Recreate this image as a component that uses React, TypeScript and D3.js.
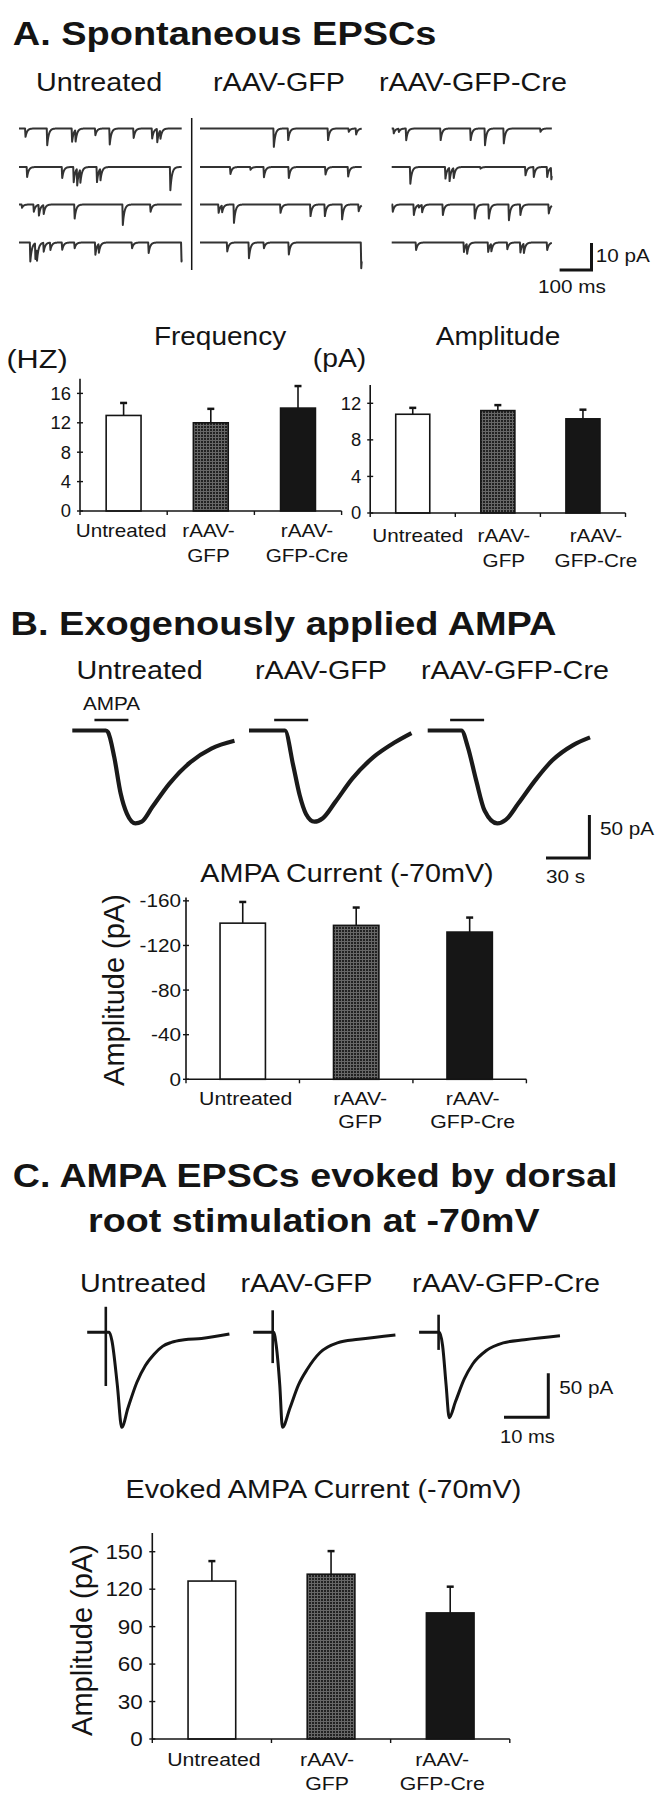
import React from 'react';
import * as d3 from 'd3';

const FONT = "'Liberation Sans', Arial, Helvetica, sans-serif";
const INK = '#141414';

// ---------- categories ----------
const groups = ['Untreated', 'rAAV-GFP', 'rAAV-GFP-Cre'];
const groupAxisLines = [['Untreated'], ['rAAV-', 'GFP'], ['rAAV-', 'GFP-Cre']];

// ---------- A: spontaneous EPSC sweeps, events as [time ms, amplitude pA] ----------
const sweepsUntreated: [number, number][][] = [
  [[19, 3.1], [87, 6.2], [165, 4.9], [176, 4.3], [238, 2.5], [283, 5.9], [358, 3.5], [416, 3.7], [432, 4.9], [442, 3.1]],
  [[24, 3.7], [134, 4.1], [170, 5.6], [181, 6.2], [191, 4.9], [243, 5.6], [254, 4.3], [473, 8.6]],
  [[8, 1.2], [45, 2.7], [61, 4.0], [76, 3.3], [173, 5.2], [324, 7.6], [411, 2.7]],
  [[34, 7.0], [50, 5.8], [55, 4.5], [76, 3.3], [97, 2.7], [134, 2.7], [173, 2.1], [238, 4.5], [249, 3.3], [353, 2.1], [405, 3.9], [508, 7.0]],
];
const sweepsGFP: [number, number][][] = [
  [[230, 6.8], [275, 4.3], [400, 4.3], [465, 1.2], [488, 2.2]],
  [[94, 2.6], [157, 1.0], [199, 3.8], [277, 4.1], [392, 2.8], [463, 3.5]],
  [[57, 3.1], [68, 2.5], [105, 6.8], [251, 3.1], [345, 4.3], [390, 4.3], [444, 5.5], [496, 2.5]],
  [[84, 3.3], [152, 5.8], [199, 2.1], [277, 4.4], [504, 9.5]],
];
const sweepsCre: [number, number][][] = [
  [[5, 1.8], [21, 1.2], [44, 4.3], [152, 4.3], [246, 4.3], [291, 6.2], [350, 5.5], [465, 1.2]],
  [[57, 6.2], [167, 4.3], [180, 4.9], [193, 3.7], [277, 0.6], [418, 3.1], [444, 3.7], [486, 3.7], [499, 4.3]],
  [[2, 2.7], [68, 3.9], [84, 1.0], [94, 2.7], [159, 3.9], [259, 5.2], [303, 5.2], [366, 5.8], [402, 3.9], [491, 3.3]],
  [[75, 2.8], [225, 3.5], [235, 3.7], [301, 3.5], [311, 2.8], [361, 2.5], [402, 3.7], [413, 3.5], [486, 2.8]],
];
const sweepDurationsMs = [510, 507, 502];

// ---------- A: bar data ----------
const freqMeanHz = [13.0, 12.0, 14.0];
const freqSemHz = [1.7, 1.9, 3.0];
const freqTicks = [0, 4, 8, 12, 16];
const ampMeanPa = [10.8, 11.2, 10.3];
const ampSemPa = [0.7, 0.6, 1.0];
const ampTicks = [0, 4, 8, 12];

// ---------- B: AMPA-evoked whole-cell currents [time s, current pA] ----------
const ampaTraceUntreated: [number, number][] = [[0, 0], [23.2, 0], [24.7, -2], [29.0, -31], [33.4, -73], [37.8, -97], [43.6, -108], [48.0, -106], [55.3, -89], [67.0, -62], [81.5, -37], [96.1, -21], [112.1, -12]];
const ampaTraceGFP: [number, number][] = [[0, 0], [24.8, 0], [30.6, -41], [35.0, -75], [39.4, -97], [45.2, -106], [51.0, -102], [59.7, -83], [71.4, -56], [86.0, -31], [100.6, -14], [112.3, -3]];
const ampaTraceCre: [number, number][] = [[0, 0], [23.3, 0], [27.7, -19], [33.5, -58], [39.3, -93], [48.1, -108], [53.9, -104], [62.6, -85], [74.3, -58], [86.0, -35], [100.5, -17], [112.2, -8]];
const ampaApplicationS: [number, number][] = [[15.3, 38.8], [17.4, 40.9], [15.5, 39.0]];
const ampaMeanPa = [-140, -138, -132];
const ampaSemPa = [-19, -16, -13];
const ampaTicks = [0, -40, -80, -120, -160];

// ---------- C: evoked EPSCs [time ms, current pA] ----------
const evokedTraceUntreated: [number, number][] = [[0, 0], [5.0, 0], [5.6, -10], [6.8, -60], [7.8, -108], [9.2, -86], [11.2, -57], [13.1, -38], [15.1, -25], [17.0, -16], [19.0, -11.5], [21.9, -8.5], [25.8, -7], [32.1, -2]];
const evokedTraceGFP: [number, number][] = [[0, 0], [4.6, 0], [5.2, -15], [6.0, -60], [6.6, -108], [8.3, -86], [10.2, -60], [12.2, -42], [15.1, -23], [19.0, -12], [23.8, -8], [32.1, -3]];
const evokedTraceCre: [number, number][] = [[0, 0], [4.6, 0], [5.3, -15], [6.1, -60], [6.8, -97], [8.2, -79], [10.2, -53], [12.1, -36], [15.1, -21], [19.0, -12], [23.8, -8.5], [31.8, -4]];
const stimArtifacts = [{ t: 4.2, up: 29, down: -61 }, { t: 4.4, up: 25, down: -35 }, { t: 4.4, up: 20, down: -20 }];
const evokedMeanPa = [126.5, 132, 101];
const evokedSemPa = [16, 18.5, 21];
const evokedTicks = [0, 30, 60, 90, 120, 150];

// ---------- helpers ----------
type TProps = { x: number; y: number; size: number; sx?: number; anchor?: string; bold?: boolean; children: React.ReactNode };
function T({ x, y, size, sx = 1.15, anchor = 'start', bold = false, children }: TProps) {
  return (
    <text transform={`translate(${x},${y}) scale(${sx},1)`} textAnchor={anchor} fontSize={size}
      fontWeight={bold ? 'bold' : 'normal'} fontFamily={FONT} fill={INK}>{children}</text>
  );
}

const fills = ['#ffffff', 'url(#stipple)', '#161616'];

type BarCfg = {
  x0: number; x1: number; yZero: number; yTop: number; max: number;
  means: number[]; sems: number[]; ticks: number[];
  tickSize: number; tickSx: number; tickRight: number;
  labelY1: number; labelY2: number; labelSize: number; labelShift: number[];
};

function BarChart({ c }: { c: BarCfg }) {
  const x = d3.scaleBand().domain(groups).range([c.x0, c.x1]).paddingInner(0.6).paddingOuter(0.3);
  const y = d3.scaleLinear().domain([0, c.max]).range([c.yZero, c.yTop]);
  const step = x.step();
  const bw = x.bandwidth();
  return (
    <g>
      {groups.map((g, i) => {
        const xb = x(g) as number;
        const y0 = y(0), ym = y(c.means[i]), ye = y(c.means[i] + c.sems[i]);
        const cx = xb + bw / 2;
        return (
          <g key={g}>
            <line x1={cx} x2={cx} y1={ym} y2={ye} stroke={INK} strokeWidth={1.6} />
            <line x1={cx - 3.5} x2={cx + 3.5} y1={ye} y2={ye} stroke={INK} strokeWidth={2.5} />
            <rect x={xb} y={Math.min(y0, ym)} width={bw} height={Math.abs(ym - y0)} fill={fills[i]} stroke={INK} strokeWidth={1.6} />
          </g>
        );
      })}
      <line x1={c.x0} x2={c.x0} y1={c.yZero} y2={c.yTop} stroke={INK} strokeWidth={1.6} />
      <line x1={c.x0} x2={c.x1} y1={c.yZero} y2={c.yZero} stroke={INK} strokeWidth={1.6} />
      {c.ticks.map((t) => (
        <g key={t}>
          <line x1={c.x0 - 3} x2={c.x0 + 3} y1={y(t)} y2={y(t)} stroke={INK} strokeWidth={1.4} />
          <T x={c.x0 - c.tickRight} y={y(t) + c.tickSize * 0.36} size={c.tickSize} sx={c.tickSx} anchor="end">{String(t)}</T>
        </g>
      ))}
      {d3.range(groups.length + 1).map((i) => (
        <line key={i} x1={c.x0 + i * step} x2={c.x0 + i * step} y1={c.yZero} y2={c.yZero + 4} stroke={INK} strokeWidth={1.4} />
      ))}
      {groups.map((g, i) => {
        const cx = (x(g) as number) + bw / 2 + c.labelShift[i];
        return groupAxisLines[i].map((ln, k) => (
          <T key={g + k} x={cx} y={k === 0 ? c.labelY1 : c.labelY2} size={c.labelSize} anchor="middle">{ln}</T>
        ));
      })}
    </g>
  );
}

// spontaneous sweep scales
const A_MS_PX = d3.scaleLinear().domain([0, 100]).range([0, 31.9]);
const A_PA_PX = d3.scaleLinear().domain([0, 10]).range([0, 27]);

function sweepPath(events: [number, number][], duration: number, x0: number, yBase: number) {
  const pts: [number, number][] = d3.range(0, duration + 0.001, 0.5).map((t) => {
    let depth = 0;
    for (const [t0, a] of events) {
      const dt = t - t0;
      if (dt >= 0) depth += a * (dt < 1.5 ? dt / 1.5 : Math.exp(-(dt - 1.5) / 5));
    }
    return [x0 + A_MS_PX(t), yBase + A_PA_PX(depth)];
  });
  return d3.line()(pts) as string;
}

const B_S_PX = d3.scaleLinear().domain([0, 30]).range([0, 43.4]);
const B_PA_PX = d3.scaleLinear().domain([0, -50]).range([0, 43]);
const C_MS_PX = d3.scaleLinear().domain([0, 10]).range([0, 44.3]);
const C_PA_PX = d3.scaleLinear().domain([0, -50]).range([0, 44]);

export default function App() {
  const sweepSets = [sweepsUntreated, sweepsGFP, sweepsCre];
  const sweepX0 = [19, 200, 391.7];
  const rowY = [128.5, 167, 204.5, 242.5];

  const ampaTraces = [ampaTraceUntreated, ampaTraceGFP, ampaTraceCre];
  const ampaX0 = [72.3, 249, 427.7];
  const ampaY0 = 730.5;
  const ampaLine = (pts: [number, number][], x0: number) =>
    d3.line<[number, number]>().x((d) => x0 + B_S_PX(d[0])).y((d) => ampaY0 + B_PA_PX(d[1])).curve(d3.curveMonotoneX)(pts) as string;

  const evokedTraces = [evokedTraceUntreated, evokedTraceGFP, evokedTraceCre];
  const evX0 = [87.2, 253.2, 419.1];
  const evY0 = 1332.3;
  const evLine = (pts: [number, number][], x0: number) =>
    d3.line<[number, number]>().x((d) => x0 + C_MS_PX(d[0])).y((d) => evY0 + C_PA_PX(d[1])).curve(d3.curveMonotoneX)(pts) as string;

  const freqCfg: BarCfg = {
    x0: 80, x1: 341.6, yZero: 511, yTop: 378.7, max: 18, means: freqMeanHz, sems: freqSemHz, ticks: freqTicks,
    tickSize: 17.5, tickSx: 1.05, tickRight: 9, labelY1: 537, labelY2: 562, labelSize: 18, labelShift: [-2.5, -2.3, 9],
  };
  const ampCfg: BarCfg = {
    x0: 370.2, x1: 625.5, yZero: 513, yTop: 385, max: 14, means: ampMeanPa, sems: ampSemPa, ticks: ampTicks,
    tickSize: 17.5, tickSx: 1.05, tickRight: 9, labelY1: 542, labelY2: 567, labelSize: 18, labelShift: [5, 6, 13],
  };
  const ampaCfg: BarCfg = {
    x0: 186, x1: 526.4, yZero: 1079.3, yTop: 897.5, max: -163, means: ampaMeanPa, sems: ampaSemPa, ticks: ampaTicks,
    tickSize: 18, tickSx: 1.15, tickRight: 5, labelY1: 1105, labelY2: 1128, labelSize: 18.5, labelShift: [3, 4, 3],
  };
  const evokedCfg: BarCfg = {
    x0: 152.3, x1: 509.8, yZero: 1739, yTop: 1533, max: 165, means: evokedMeanPa, sems: evokedSemPa, ticks: evokedTicks,
    tickSize: 19.5, tickSx: 1.15, tickRight: 9.5, labelY1: 1766, labelY2: 1790, labelSize: 18.5, labelShift: [2, -4, -8],
  };

  return (
    <svg width={667} height={1800} viewBox="0 0 667 1800" style={{ position: 'absolute', left: 0, top: 0, background: '#fff' }}>
      <defs>
        <pattern id="stipple" width={3} height={3} patternUnits="userSpaceOnUse">
          <rect width={3} height={3} fill="#676767" />
          <rect width={2} height={2} fill="#222222" />
        </pattern>
      </defs>
      <rect width={667} height={1800} fill="#fff" />

      {/* ================= A ================= */}
      <T x={12.8} y={45} size={33} bold>A. Spontaneous EPSCs</T>
      <T x={36} y={91} size={25}>Untreated</T>
      <T x={213} y={91} size={25}>rAAV-GFP</T>
      <T x={379} y={91} size={25}>rAAV-GFP-Cre</T>

      {sweepSets.map((set, ci) =>
        set.map((ev, ri) => (
          <path key={`${ci}-${ri}`} d={sweepPath(ev, sweepDurationsMs[ci], sweepX0[ci], rowY[ri])}
            fill="none" stroke="#333333" strokeWidth={2} strokeLinejoin="round" />
        ))
      )}
      <line x1={191.7} x2={191.7} y1={118} y2={270} stroke={INK} strokeWidth={1.5} />

      {/* A scale bar */}
      <path d={`M${591.5 - A_MS_PX(100)},270 H591.5 V${270 - A_PA_PX(10)}`} fill="none" stroke={INK} strokeWidth={3} />
      <T x={595.7} y={262} size={18}>10 pA</T>
      <T x={538} y={293} size={18}>100 ms</T>

      <T x={220} y={345} size={25} sx={1.12} anchor="middle">Frequency</T>
      <T x={498} y={345} size={25} sx={1.12} anchor="middle">Amplitude</T>
      <T x={6.4} y={368} size={26} sx={1.18}>(HZ)</T>
      <T x={312.8} y={367} size={25} sx={1.13}>(pA)</T>
      <BarChart c={freqCfg} />
      <BarChart c={ampCfg} />

      {/* ================= B ================= */}
      <T x={10.6} y={635} size={33} bold>B. Exogenously applied AMPA</T>
      <T x={76.6} y={679} size={25}>Untreated</T>
      <T x={255} y={679} size={25}>rAAV-GFP</T>
      <T x={421} y={679} size={25}>rAAV-GFP-Cre</T>
      <T x={83} y={710} size={18}>AMPA</T>
      {ampaApplicationS.map(([s, e], i) => (
        <line key={i} x1={ampaX0[i] + B_S_PX(s)} x2={ampaX0[i] + B_S_PX(e)} y1={720} y2={720} stroke={INK} strokeWidth={2.5} />
      ))}
      {ampaTraces.map((tr, i) => (
        <path key={i} d={ampaLine(tr, ampaX0[i])} fill="none" stroke="#1a1a1a" strokeWidth={4.2} strokeLinejoin="round" />
      ))}
      <path d={`M${589.4 - B_S_PX(30)},858 H589.4 V${858 - B_PA_PX(-50)}`} fill="none" stroke={INK} strokeWidth={3} />
      <T x={600} y={835} size={18}>50 pA</T>
      <T x={546} y={883} size={18}>30 s</T>
      <T x={347} y={882} size={25} anchor="middle">AMPA Current (-70mV)</T>
      <text transform="translate(124,990) rotate(-90)" textAnchor="middle" fontSize={29} fontFamily={FONT} fill={INK}>Amplitude (pA)</text>
      <BarChart c={ampaCfg} />

      {/* ================= C ================= */}
      <T x={12.8} y={1187} size={33} sx={1.14} bold>C. AMPA EPSCs evoked by dorsal</T>
      <T x={313.8} y={1232} size={33} sx={1.14} bold anchor="middle">root stimulation at -70mV</T>
      <T x={80} y={1292} size={25}>Untreated</T>
      <T x={240.4} y={1292} size={25}>rAAV-GFP</T>
      <T x={412} y={1292} size={25}>rAAV-GFP-Cre</T>
      {evokedTraces.map((tr, i) => (
        <g key={i}>
          <path d={evLine(tr, evX0[i])} fill="none" stroke="#151515" strokeWidth={3} strokeLinejoin="round" />
          <line x1={evX0[i] + C_MS_PX(stimArtifacts[i].t)} x2={evX0[i] + C_MS_PX(stimArtifacts[i].t)}
            y1={evY0 + C_PA_PX(stimArtifacts[i].up)} y2={evY0 + C_PA_PX(stimArtifacts[i].down)} stroke="#151515" strokeWidth={2.6} />
        </g>
      ))}
      <path d={`M${548.3 - C_MS_PX(10)},1417.3 H548.3 V${1417.3 - C_PA_PX(-50)}`} fill="none" stroke={INK} strokeWidth={3} />
      <T x={559.3} y={1394} size={18}>50 pA</T>
      <T x={500} y={1443} size={17.5}>10 ms</T>
      <T x={323.4} y={1498} size={25} anchor="middle">Evoked AMPA Current (-70mV)</T>
      <text transform="translate(92,1640) rotate(-90)" textAnchor="middle" fontSize={29} fontFamily={FONT} fill={INK}>Amplitude (pA)</text>
      <BarChart c={evokedCfg} />
    </svg>
  );
}
